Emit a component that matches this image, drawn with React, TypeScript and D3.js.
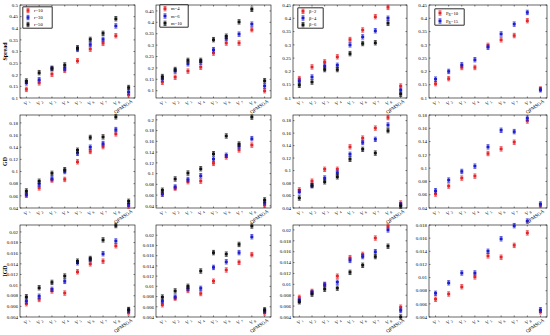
import { useEffect, useRef } from 'react';
import * as d3 from 'd3';

const categories = ['V1', 'V2', 'V3', 'V4', 'V5', 'V6', 'V7', 'V8', 'QPMSGA'];

const metrics = ['Spread', 'GD', 'IGD'];

const legendR = ['r=10', 'r=30', 'r=50'];
const legendM = ['m=4', 'm=6', 'm=10'];
const legendB = ['β=2', 'β=4', 'β=6'];
const legendP = ['10', '15']; // P_R

const seriesColors = ['#e3242b', '#1c1ccf', '#111111'];

// Spread
const spreadR = [
  [0.137, 0.165, 0.202, 0.219, 0.26, 0.31, 0.335, 0.368, 0.114],
  [0.165, 0.179, 0.227, 0.227, 0.309, 0.33, 0.352, 0.41, 0.126],
  [0.173, 0.209, 0.227, 0.242, 0.316, 0.352, 0.378, 0.441, 0.145],
];
const spreadM = [
  [0.137, 0.159, 0.186, 0.203, 0.265, 0.309, 0.309, 0.368, 0.1],
  [0.152, 0.186, 0.218, 0.225, 0.28, 0.329, 0.348, 0.392, 0.121],
  [0.162, 0.193, 0.233, 0.233, 0.324, 0.339, 0.402, 0.457, 0.144],
];
const spreadB = [
  [0.173, 0.217, 0.236, 0.255, 0.32, 0.356, 0.406, 0.441, 0.145],
  [0.163, 0.179, 0.22, 0.223, 0.3, 0.33, 0.353, 0.4, 0.129],
  [0.148, 0.16, 0.207, 0.207, 0.267, 0.305, 0.308, 0.381, 0.114],
];
const spreadP = [
  [0.154, 0.173, 0.215, 0.215, 0.298, 0.319, 0.335, 0.391, 0.134],
  [0.171, 0.2, 0.225, 0.244, 0.291, 0.341, 0.378, 0.422, 0.131],
];

// GD
const gdR = [
  [0.061, 0.073, 0.086, 0.087, 0.116, 0.133, 0.141, 0.162, 0.043],
  [0.062, 0.079, 0.088, 0.1, 0.13, 0.14, 0.146, 0.169, 0.046],
  [0.068, 0.084, 0.097, 0.103, 0.135, 0.156, 0.157, 0.19, 0.051],
];
const gdM = [
  [0.062, 0.073, 0.085, 0.086, 0.119, 0.131, 0.144, 0.153, 0.041],
  [0.062, 0.075, 0.089, 0.096, 0.127, 0.134, 0.151, 0.165, 0.046],
  [0.069, 0.09, 0.101, 0.109, 0.137, 0.17, 0.155, 0.205, 0.051],
];
const gdB = [
  [0.069, 0.083, 0.102, 0.102, 0.138, 0.152, 0.168, 0.185, 0.048],
  [0.066, 0.076, 0.088, 0.096, 0.126, 0.145, 0.15, 0.173, 0.045],
  [0.056, 0.076, 0.082, 0.09, 0.118, 0.134, 0.128, 0.164, 0.043],
];
const gdP = [
  [0.061, 0.073, 0.085, 0.088, 0.122, 0.129, 0.139, 0.171, 0.044],
  [0.066, 0.082, 0.095, 0.103, 0.132, 0.157, 0.155, 0.175, 0.046],
];

// IGD
const igdR = [
  [0.0065, 0.0073, 0.0089, 0.0085, 0.0125, 0.014, 0.0145, 0.0174, 0.0048],
  [0.007, 0.0079, 0.0092, 0.0107, 0.0142, 0.0148, 0.0159, 0.0183, 0.0053],
  [0.0078, 0.0095, 0.0105, 0.0117, 0.0145, 0.015, 0.0185, 0.0212, 0.0054],
];
const igdM = [
  [0.0064, 0.0077, 0.0092, 0.0086, 0.011, 0.0132, 0.0147, 0.0162, 0.0048],
  [0.0071, 0.0079, 0.0096, 0.0096, 0.0137, 0.0148, 0.0166, 0.0197, 0.0052],
  [0.0079, 0.0091, 0.01, 0.013, 0.0166, 0.0163, 0.0182, 0.0218, 0.0054],
];
const igdB = [
  [0.0076, 0.0087, 0.01, 0.0115, 0.0149, 0.0155, 0.0185, 0.0207, 0.0058],
  [0.007, 0.0085, 0.0099, 0.0104, 0.0144, 0.0151, 0.016, 0.02, 0.0052],
  [0.0068, 0.0082, 0.0091, 0.0093, 0.0122, 0.0135, 0.0151, 0.017, 0.004],
];
const igdP = [
  [0.0067, 0.0075, 0.0086, 0.0101, 0.0133, 0.0131, 0.0149, 0.0168, 0.0048],
  [0.0076, 0.0092, 0.0107, 0.0107, 0.014, 0.0159, 0.0179, 0.0186, 0.0051],
];

// y domains and ticks per panel [row][col]
const yDomains = [
  [[0.1, 0.5], [0.068, 0.476], [0.1, 0.45], [0.1, 0.45]],
  [[0.04, 0.193], [0.036, 0.209], [0.04, 0.189], [0.04, 0.18]],
  [[0.004, 0.0213], [0.004, 0.022], [0.004, 0.0209], [0.004, 0.018]],
];
const yTicks = [
  [[0.1, 0.5, 0.05], [0.1, 0.45, 0.05], [0.1, 0.45, 0.05], [0.1, 0.45, 0.05]],
  [[0.04, 0.18, 0.02], [0.04, 0.2, 0.02], [0.04, 0.18, 0.02], [0.04, 0.18, 0.02]],
  [[0.004, 0.02, 0.002], [0.004, 0.02, 0.002], [0.004, 0.02, 0.002], [0.004, 0.018, 0.002]],
];

const panelData = [
  [spreadR, spreadM, spreadB, spreadP],
  [gdR, gdM, gdB, gdP],
  [igdR, igdM, igdB, igdP],
];
const legends = [legendR, legendM, legendB, legendP];

const colX = [[20, 135], [156, 271], [293, 407], [429, 547]];
const rowY = [[5, 98], [115, 208], [225, 317]];
const legendBox = [[23, 7, 29, 21], [160, 5, 28, 22], [298, 8, 25, 20], [435, 9, 29, 16]];

const FONT = '"Liberation Serif", "Times New Roman", serif';

export default function App() {
  const svgRef = useRef<SVGSVGElement>(null);

  useEffect(() => {
    if (!svgRef.current) return;
    const svg = d3.select(svgRef.current);
    svg.selectAll('*').remove();
    svg.append('rect').attr('width', 550).attr('height', 335).attr('fill', '#fff');

    // errorbar glyph: small filled square with short capped whiskers
    const drawMarker = (g: any, x: number, y: number, color: string) => {
      g.append('line').attr('x1', x).attr('x2', x).attr('y1', y - 2.2).attr('y2', y + 2.2)
        .attr('stroke', color).attr('stroke-width', 0.7);
      [-2.2, 2.2].forEach((d) => {
        g.append('line').attr('x1', x - 1.5).attr('x2', x + 1.5).attr('y1', y + d).attr('y2', y + d)
          .attr('stroke', color).attr('stroke-width', 0.7);
      });
      g.append('rect').attr('x', x - 1.5).attr('y', y - 1.3).attr('width', 3).attr('height', 2.6)
        .attr('fill', color);
    };

    rowY.forEach(([top, bottom], r) => {
      colX.forEach(([left, right], c) => {
        const g = svg.append('g');
        const x = d3.scalePoint<string>().domain(categories).range([left, right]).padding(0.5);
        const y = d3.scaleLinear().domain(yDomains[r][c]).range([bottom, top]);
        const [t0, t1, ts] = yTicks[r][c];
        const ticks = d3.range(Math.round((t1 - t0) / ts) + 1).map((i) => +(t0 + i * ts).toFixed(4));

        // box
        g.append('rect').attr('x', left).attr('y', top).attr('width', right - left).attr('height', bottom - top)
          .attr('fill', 'none').attr('stroke', '#000').attr('stroke-width', 0.6);

        // y ticks
        ticks.forEach((t) => {
          const yy = y(t);
          g.append('line').attr('x1', left).attr('x2', left + 1.5).attr('y1', yy).attr('y2', yy).attr('stroke', '#000').attr('stroke-width', 0.5);
          g.append('line').attr('x1', right).attr('x2', right - 1.5).attr('y1', yy).attr('y2', yy).attr('stroke', '#000').attr('stroke-width', 0.5);
          g.append('text').attr('x', left - 2).attr('y', yy).attr('dy', '0.35em').attr('text-anchor', 'end')
            .attr('font-family', FONT).attr('font-size', 5).attr('fill', '#000').text(String(t));
        });

        // x ticks & labels
        categories.forEach((cat) => {
          const xx = x(cat) as number;
          g.append('line').attr('x1', xx).attr('x2', xx).attr('y1', bottom).attr('y2', bottom - 1.5).attr('stroke', '#000').attr('stroke-width', 0.5);
          g.append('line').attr('x1', xx).attr('x2', xx).attr('y1', top).attr('y2', top + 1.5).attr('stroke', '#000').attr('stroke-width', 0.5);
          const lbl = g.append('text')
            .attr('transform', `translate(${xx + 4},${bottom + 4}) rotate(-35)`)
            .attr('text-anchor', 'end').attr('font-family', FONT).attr('font-size', 5).attr('fill', '#000');
          if (cat.startsWith('V')) {
            lbl.append('tspan').text('V');
            lbl.append('tspan').attr('font-size', 3.6).attr('dy', 1).text(' ' + cat.slice(1));
          } else {
            lbl.text(cat);
          }
        });

        // points
        panelData[r][c].forEach((vals, s) => {
          vals.forEach((v, i) => {
            drawMarker(g, x(categories[i]) as number, y(v), seriesColors[s]);
          });
        });

        // legend
        const [lx, ly, lw, lh] = legendBox[c];
        g.append('rect').attr('x', lx).attr('y', ly).attr('width', lw).attr('height', lh)
          .attr('fill', '#fff').attr('stroke', '#000').attr('stroke-width', 0.5);
        const items = legends[c];
        const rowH = lh / items.length;
        items.forEach((label, s) => {
          const cy = ly + rowH * (s + 0.5);
          drawMarker(g, lx + 5, cy, seriesColors[s]);
          const t = g.append('text').attr('x', lx + 11).attr('y', cy).attr('dy', '0.35em')
            .attr('font-family', FONT).attr('font-size', 4.6).attr('fill', '#000');
          if (c === 3) {
            t.append('tspan').text('P');
            t.append('tspan').attr('font-size', 3.4).attr('dy', 1).text('R');
            t.append('tspan').attr('dy', -1).text('=' + label);
          } else {
            t.text(label);
          }
        });

        if (c === 0) {
          g.append('text')
            .attr('transform', `translate(7,${(top + bottom) / 2}) rotate(-90)`)
            .attr('text-anchor', 'middle').attr('font-family', FONT).attr('font-size', 6)
            .attr('font-weight', 'bold').attr('fill', '#000').text(metrics[r]);
        }
      });
    });
  }, []);

  return (
    <svg
      ref={svgRef}
      width={550}
      height={335}
      style={{ position: 'absolute', left: 0, top: 0 }}
    />
  );
}
